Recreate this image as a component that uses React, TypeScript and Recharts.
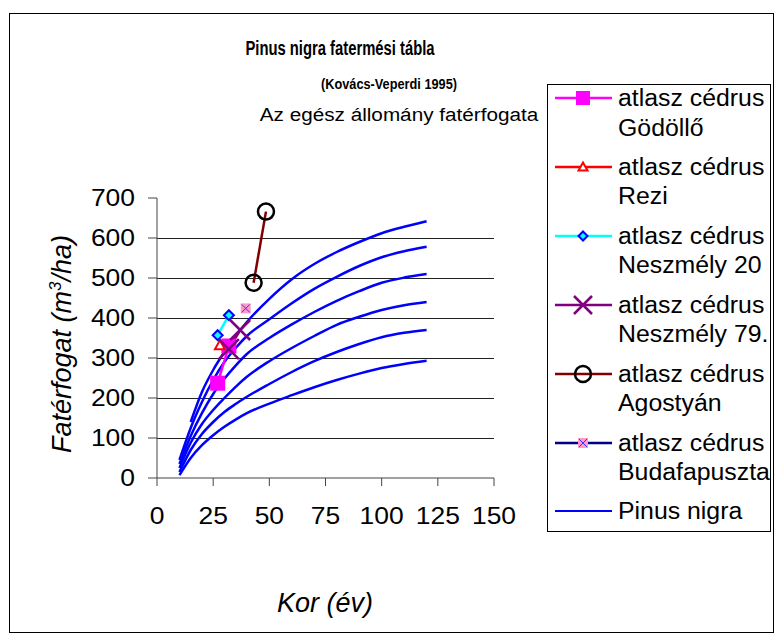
import React from "react";
import { LineChart, Line, XAxis, YAxis, ReferenceLine } from "recharts";

// Pinus nigra yield table (Kovács-Veperdi 1995), volume by age, six site classes
const pinusAges = [10, 15, 20, 25, 30, 35, 40, 50, 60, 70, 80, 90, 100, 110, 120];
const pinusI = [null, 140, 215, 270, 315, 355, 390, 448, 497, 535, 565, 590, 612, 628, 642];
const pinusII = [45, 125, 190, 245, 290, 325, 355, 397, 437, 473, 503, 530, 552, 567, 578];
const pinusIII = [35, 105, 162, 210, 248, 281, 310, 350, 384, 415, 443, 467, 488, 501, 510];
const pinusIV = [25, 88, 135, 170, 200, 228, 253, 292, 325, 355, 383, 403, 420, 432, 440];
const pinusV = [15, 70, 110, 140, 165, 185, 203, 235, 265, 292, 315, 335, 352, 363, 370];
const pinusVI = [7, 50, 82, 107, 128, 146, 162, 186, 207, 227, 245, 261, 275, 285, 293];

// measured cedar stands: age and volume
const godolloAge = [27, 32];
const godolloVol = [237, 330];
const reziAge = [28];
const reziVol = [332];
const neszmely20Age = [27, 32];
const neszmely20Vol = [357, 407];
const neszmely79Age = [32, 37];
const neszmely79Vol = [322, 370];
const agostyanAge = [43, 48.5];
const agostyanVol = [488, 666];
const budafaAge = [39.5];
const budafaVol = [424];

const xTicks = [0, 25, 50, 75, 100, 125, 150];
const yTicks = [0, 100, 200, 300, 400, 500, 600, 700];
const gridValues = [100, 200, 300, 400, 500, 600];

const toPoints = (xs: number[], ys: (number | null)[]) =>
  xs.map((x, i) => ({ x, y: ys[i] })).filter((p) => p.y !== null);

const pinusSeries = [pinusI, pinusII, pinusIII, pinusIV, pinusV, pinusVI].map((s) =>
  toPoints(pinusAges, s)
);

const FONT = "'Liberation Sans', Arial, sans-serif";

const Square = ({ cx, cy, size }: any) => (
  <rect x={cx - size / 2} y={cy - size / 2} width={size} height={size} fill="#FF00FF" />
);
const Triangle = ({ cx, cy, size }: any) => (
  <polygon
    points={`${cx},${cy - size / 2} ${cx + size / 2},${cy + size / 2 - 1} ${cx - size / 2},${cy + size / 2 - 1}`}
    fill="#fff"
    stroke="#FF0000"
    strokeWidth={2}
  />
);
const Diamond = ({ cx, cy, size }: any) => (
  <polygon
    points={`${cx},${cy - size / 2} ${cx + size / 2},${cy} ${cx},${cy + size / 2} ${cx - size / 2},${cy}`}
    fill="#00FFFF"
    stroke="#0000FF"
    strokeWidth={2}
  />
);
const Cross = ({ cx, cy, size }: any) => (
  <g stroke="#800080" strokeWidth={2.5}>
    <line x1={cx - size / 2} y1={cy - size / 2} x2={cx + size / 2} y2={cy + size / 2} />
    <line x1={cx - size / 2} y1={cy + size / 2} x2={cx + size / 2} y2={cy - size / 2} />
  </g>
);
const Circle = ({ cx, cy, size }: any) => (
  <circle cx={cx} cy={cy} r={size / 2} fill="none" stroke="#000" strokeWidth={2.5} />
);
const Star = ({ cx, cy, size }: any) => (
  <g>
    <rect x={cx - size / 2} y={cy - size / 2} width={size} height={size} fill="#FF99CC" />
    <g stroke="#3333FF" strokeWidth={1}>
      <line x1={cx - size / 2 + 1} y1={cy - size / 2 + 1} x2={cx + size / 2 - 1} y2={cy + size / 2 - 1} />
      <line x1={cx - size / 2 + 1} y1={cy + size / 2 - 1} x2={cx + size / 2 - 1} y2={cy - size / 2 + 1} />
    </g>
  </g>
);

const dotOf = (Shape: any, size: number) => (p: any) =>
  <Shape key={p.index} cx={p.cx} cy={p.cy} size={size} />;

const series = [
  { name: "atlasz cédrus", sub: "Gödöllő", data: toPoints(godolloAge, godolloVol), color: "#FF00FF", Shape: Square, size: 15, legendSize: 14 },
  { name: "atlasz cédrus", sub: "Rezi", data: toPoints(reziAge, reziVol), color: "#FF0000", Shape: Triangle, size: 10, legendSize: 9 },
  { name: "atlasz cédrus", sub: "Neszmély 20", data: toPoints(neszmely20Age, neszmely20Vol), color: "#00FFFF", Shape: Diamond, size: 10, legendSize: 9 },
  { name: "atlasz cédrus", sub: "Neszmély 79.", data: toPoints(neszmely79Age, neszmely79Vol), color: "#800080", Shape: Cross, size: 20, legendSize: 18 },
  { name: "atlasz cédrus", sub: "Agostyán", data: toPoints(agostyanAge, agostyanVol), color: "#800000", Shape: Circle, size: 16, legendSize: 16 },
  { name: "atlasz cédrus", sub: "Budafapuszta", data: toPoints(budafaAge, budafaVol), color: "#000080", Shape: Star, size: 10, legendSize: 10 },
];

const YTick = ({ x, y, payload }: any) => (
  <g transform={`translate(${x},${y})`}>
    <text transform="scale(1.15,1)" textAnchor="end" dy="0.355em" fontSize={23} fontFamily={FONT} fill="#000">
      {payload.value}
    </text>
  </g>
);
const XTick = ({ x, y, payload }: any) => (
  <g transform={`translate(${x},${y})`}>
    <text transform="scale(1.15,1)" textAnchor="middle" dy="0.71em" fontSize={23} fontFamily={FONT} fill="#000">
      {payload.value}
    </text>
  </g>
);

const LegendBox = () => {
  const rows = [...series, { name: "Pinus nigra", sub: "", color: "#0000FF", Shape: null, legendSize: 0 } as any];
  return (
    <div
      style={{
        position: "absolute",
        left: 539,
        top: 76,
        width: 224,
        height: 448,
        border: "1px solid #000",
        boxSizing: "border-box",
        background: "#fff",
      }}
    >
      {rows.map((r: any, i: number) => {
        const cy = 13 + i * 68.9;
        return (
          <div key={i}>
            <svg style={{ position: "absolute", left: 7, top: cy - 12 }} width={60} height={24}>
              <line x1={0} y1={12} x2={57} y2={12} stroke={r.color} strokeWidth={r.Shape ? 2.5 : 2} />
              {r.Shape && <r.Shape cx={28} cy={12} size={r.legendSize} />}
            </svg>
            <div
              style={{
                position: "absolute",
                left: 70,
                top: cy - 14,
                fontFamily: FONT,
                fontSize: 23,
                lineHeight: "29.5px",
                whiteSpace: "nowrap",
                transform: "scaleX(1.08)",
                transformOrigin: "left center",
              }}
            >
              {r.name}
              {r.sub && <br />}
              {r.sub}
            </div>
          </div>
        );
      })}
    </div>
  );
};

const App = () => {
  return (
    <div style={{ position: "relative", width: 775, height: 633, fontFamily: FONT, background: "#fff" }}>
      <div
        style={{
          position: "absolute",
          left: 1,
          top: 5,
          width: 765,
          height: 620,
          border: "1px solid #000",
          boxSizing: "border-box",
        }}
      />
      <LineChart width={775} height={633} margin={{ top: 190, right: 289, bottom: 123, left: 89 }}>
        <XAxis
          type="number"
          dataKey="x"
          domain={[0, 150]}
          ticks={xTicks}
          interval={0}
          stroke="#444"
          tickSize={8}
          tickMargin={22}
          height={40}
          tick={<XTick />}
        />
        <YAxis
          type="number"
          dataKey="y"
          domain={[0, 700]}
          ticks={yTicks}
          interval={0}
          stroke="#444"
          tickSize={9}
          tickMargin={13}
          width={60}
          tick={<YTick />}
        />
        {gridValues.map((v) => (
          <ReferenceLine key={v} y={v} stroke="#222" strokeWidth={1} shapeRendering="crispEdges" />
        ))}
        {pinusSeries.map((d, i) => (
          <Line
            key={"p" + i}
            data={d}
            dataKey="y"
            type="monotone"
            stroke="#0000FF"
            strokeWidth={2.5}
            dot={false}
            activeDot={false}
            isAnimationActive={false}
            name="Pinus nigra"
          />
        ))}
        {series.map((s, i) => (
          <Line
            key={"s" + i}
            data={s.data}
            dataKey="y"
            type="linear"
            stroke={s.color}
            strokeWidth={2.5}
            dot={dotOf(s.Shape, s.size)}
            activeDot={false}
            isAnimationActive={false}
            name={s.name + " " + s.sub}
          />
        ))}
      </LineChart>
      <div
        style={{
          position: "absolute",
          left: 132,
          width: 400,
          top: 28,
          textAlign: "center",
          fontWeight: "bold",
          fontSize: 20,
          lineHeight: "24px",
          transform: "scaleX(0.74)",
        }}
      >
        Pinus nigra fatermési tábla
      </div>
      <div
        style={{
          position: "absolute",
          left: 181,
          width: 400,
          top: 67,
          textAlign: "center",
          fontWeight: "bold",
          fontSize: 15,
          lineHeight: "18px",
          transform: "scaleX(0.85)",
        }}
      >
        (Kovács-Veperdi 1995)
      </div>
      <div
        style={{
          position: "absolute",
          left: 191,
          width: 400,
          top: 96,
          textAlign: "center",
          fontSize: 18,
          lineHeight: "22px",
          transform: "scaleX(1.15)",
        }}
      >
        Az egész állomány fatérfogata
      </div>
      <div
        style={{
          position: "absolute",
          left: 317,
          top: 595,
          transform: "translate(-50%,-50%)",
          fontStyle: "italic",
          fontSize: 27,
          whiteSpace: "nowrap",
        }}
      >
        Kor (év)
      </div>
      <div
        style={{
          position: "absolute",
          left: 54,
          top: 336,
          transform: "translate(-50%,-50%) rotate(-90deg)",
          fontStyle: "italic",
          fontSize: 27,
          whiteSpace: "nowrap",
        }}
      >
        Fatérfogat (m<sup style={{ fontSize: 17 }}>3</sup>/ha)
      </div>
      <LegendBox />
    </div>
  );
};

export default App;
